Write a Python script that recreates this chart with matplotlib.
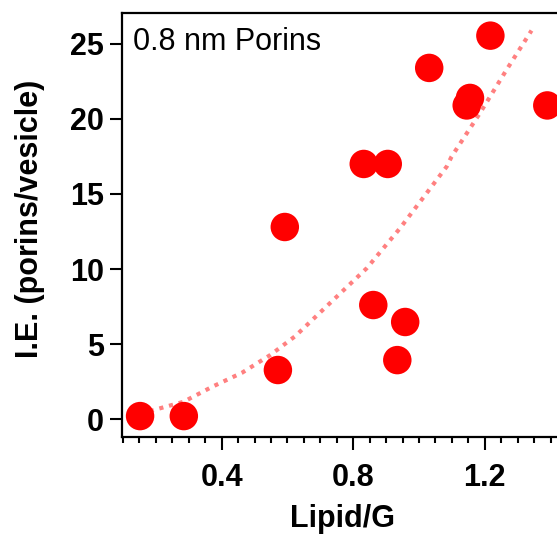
import numpy as np
import matplotlib.pyplot as plt
from matplotlib.ticker import MultipleLocator

plt.rcParams['font.family'] = ['Liberation Sans', 'DejaVu Sans']

# measured insertion efficiency vs lipid/G ratio
lipid_g = [0.152, 0.285, 0.571, 0.592, 0.832, 0.905, 0.861, 0.934, 0.958,
           1.031, 1.145, 1.155, 1.217, 1.390]
ie = [0.2, 0.2, 3.27, 12.8, 17.0, 17.0, 7.6, 3.93, 6.47,
      23.4, 20.9, 21.4, 25.55, 20.9]

# fitted trend curve
fit_x = [0.152, 0.193, 0.284, 0.371, 0.462, 0.548, 0.624, 0.643, 0.739, 0.841,
         0.942, 1.023, 1.084, 1.099, 1.185, 1.266, 1.342]
fit_y = [0.35, 0.6, 1.15, 2.15, 3.09, 4.27, 5.53, 5.93, 7.93, 10.05,
         12.71, 15.05, 16.82, 17.49, 20.38, 23.27, 25.89]

fig = plt.figure(figsize=(5.57, 5.35), dpi=100)
ax = fig.add_axes([0.219, 0.183, 0.799, 0.793])

ax.plot(fit_x, fit_y, color='#ff8080', lw=3, linestyle=(0, (1, 1.4)),
        dash_capstyle='butt', zorder=2)
ax.scatter(lipid_g, ie, s=420, color='red', edgecolors='none', zorder=3)

ax.set_xlim(0.097, 1.45)
ax.set_ylim(-1.2, 27.07)
ax.xaxis.set_major_locator(MultipleLocator(0.4))
ax.xaxis.set_minor_locator(MultipleLocator(0.05))
ax.yaxis.set_major_locator(MultipleLocator(5))

for s in ax.spines.values():
    s.set_linewidth(1.6)
ax.tick_params(axis='x', which='major', length=9, width=1.5, pad=10,
               labelsize=22)
ax.tick_params(axis='x', which='minor', length=4, width=1.5)
ax.tick_params(axis='y', which='major', length=9, width=1.5, pad=4,
               labelsize=22)
for lab in ax.get_xticklabels() + ax.get_yticklabels():
    lab.set_fontweight('bold')

ax.set_xlabel('Lipid/G', fontsize=22, fontweight='bold')
ax.set_ylabel('I.E. (porins/vesicle)', fontsize=22, fontweight='bold')
ax.xaxis.set_label_coords(0.495, -0.158)
ax.yaxis.set_label_coords(-0.173, 0.514)
ax.text(0.025, 0.967, '0.8 nm Porins', transform=ax.transAxes, fontsize=22,
        va='top', ha='left')

fig.savefig('out.png', dpi=100)
